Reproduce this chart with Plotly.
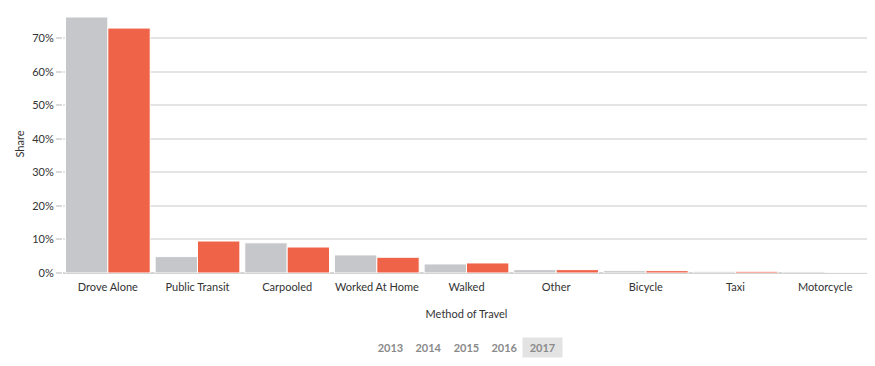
import plotly.graph_objects as go

categories = ["Drove Alone", "Public Transit", "Carpooled", "Worked At Home", "Walked",
              "Other", "Bicycle", "Taxi", "Motorcycle"]
share_base = [0.764, 0.049, 0.090, 0.054, 0.027, 0.010, 0.007, 0.005, 0.004]
share_2017 = [0.731, 0.0955, 0.0775, 0.047, 0.030, 0.010, 0.007, 0.005, 0.001]
years = ["2013", "2014", "2015", "2016", "2017"]
active_year = "2017"

GRAY = "#c6c7ca"
RED = "#ef6348"
FONT = "Lato"

fig = go.Figure()
fig.add_trace(go.Bar(x=categories, y=share_base, marker=dict(color=GRAY, line=dict(color="white", width=1)),
                     name="Baseline", hovertemplate="%{x}: %{y:.1%}<extra></extra>"))
fig.add_trace(go.Bar(x=categories, y=share_2017, marker=dict(color=RED, line=dict(color="white", width=1)),
                     name=active_year, hovertemplate="%{x}: %{y:.1%}<extra></extra>"))

# page has an 8px body margin; figure is sized to fit the window
OFF = 8
W, H = 875 - OFF, 366 - OFF
L, R, T = 63 - OFF, 5, 15 - OFF
B = H - (273.3 - OFF)
pw, ph = W - L - R, H - T - B

def px(x):
    return (x - OFF - L) / pw

def py(y):
    return (H - B - (y - OFF)) / ph

btn_x = [390, 428, 466, 504, 542.5]
annotations = []
for yr, bx in zip(years, btn_x):
    active = yr == active_year
    annotations.append(dict(
        text=f"<b>{yr}</b>", x=px(bx), y=py(347.5), xref="paper", yref="paper",
        xanchor="center", yanchor="middle", showarrow=False,
        font=dict(family=FONT, size=11, color="#8a8a8a"),
        bgcolor="#e3e3e3" if active else "rgba(0,0,0,0)",
        borderpad=3, width=33, height=13,
    ))

fig.update_layout(
    width=W, height=H,
    margin=dict(l=L, r=R, t=T, b=B, autoexpand=False),
    paper_bgcolor="white", plot_bgcolor="white",
    barmode="group", bargap=0.055, bargroupgap=0,
    showlegend=False,
    font=dict(family=FONT, size=11, color="#333333"),
    annotations=annotations,
    xaxis=dict(
        showgrid=False, ticks="outside", ticklen=4, tickcolor="rgba(0,0,0,0)",
        tickfont=dict(size=11, color="#333333"),
        title=dict(text="Method of Travel", font=dict(size=11, color="#333333"), standoff=18),
        automargin=False,
    ),
    yaxis=dict(
        range=[0, 0.770], tickformat=".0%", dtick=0.1,
        showgrid=True, gridcolor="#e4e4e4", gridwidth=2,
        zeroline=True, zerolinecolor="#d4d4d4", zerolinewidth=2,
        ticks="outside", ticklen=6, tickcolor="#dadada", tickwidth=2,
        tickfont=dict(size=11, color="#333333"),
        title=dict(text="Share", font=dict(size=11, color="#333333"), standoff=5),
        automargin=False,
    ),
)

fig.write_html("out.html")
